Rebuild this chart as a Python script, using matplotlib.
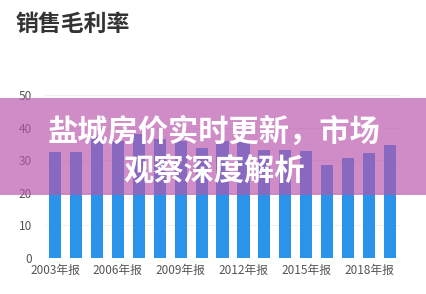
import numpy as np
import matplotlib
matplotlib.use('Agg')
import matplotlib.pyplot as plt
from matplotlib.patches import Rectangle

plt.rcParams['font.family'] = ['Noto Sans CJK SC', 'DejaVu Sans']

years = [str(y) for y in range(2003, 2020)]
margin = [32.6, 32.6, 37.0, 36.0, 38.0, 36.5, 36.0, 33.6, 36.0, 36.0,
          33.0, 33.0, 32.9, 28.6, 30.6, 32.1, 34.7]
tick_labels = [y + '年报' if i % 3 == 0 else '' for i, y in enumerate(years)]
yticks = [0, 10, 20, 30, 40, 50]

title = '销售毛利率'
banner = '盐城房价实时更新，市场\n观察深度解析'

fig = plt.figure(figsize=(4.26, 2.94), dpi=100)
ax = fig.add_axes([0.1045, 0.1224, 0.8357, 0.5544])

x = np.arange(len(years))
ax.bar(x, margin, width=0.58, color='#2a93ea', zorder=2)
ax.set_xlim(-0.5, len(years) - 0.5)
ax.set_ylim(0, 50)
ax.set_yticks(yticks)
ax.set_xticks(x)
ax.set_xticklabels(tick_labels)
ax.tick_params(length=0, labelsize=8.5, colors='#555555')
ax.tick_params(axis='y', pad=9)
ax.tick_params(axis='x', pad=4)
ax.grid(axis='y', color='#eeeeee', lw=0.6, zorder=0)
for s in ax.spines.values():
    s.set_visible(False)

fig.text(0.036, 0.918, title, fontsize=16.5, fontweight='bold', color='#333333',
         va='center', ha='left')

# pink band over the chart
band = Rectangle((0, 0.337), 1, 0.33, transform=fig.transFigure,
                 facecolor='#b954aa', alpha=0.67, edgecolor='none', zorder=5)
fig.patches.append(band)
fig.text(0.502, 0.486, banner, fontsize=21.8, fontweight='heavy', color='white',
         ha='center', va='center', linespacing=1.3, zorder=6)

fig.savefig('out.png', dpi=100)
